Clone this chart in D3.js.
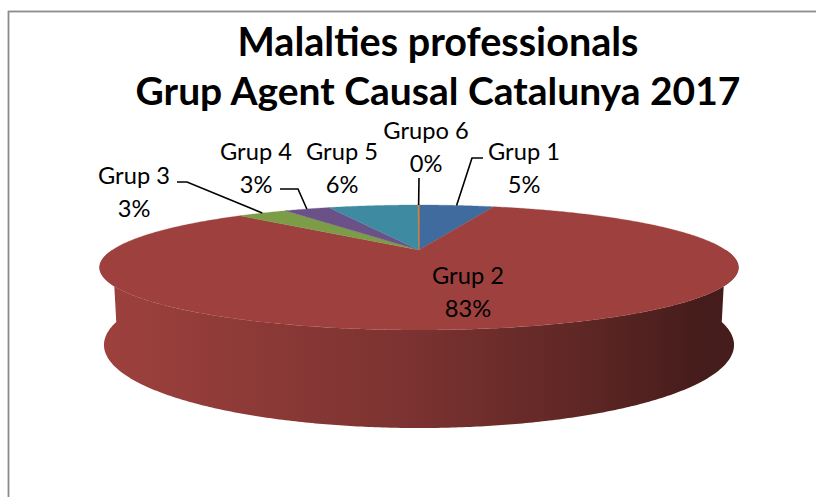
<!DOCTYPE html>
<html>
<head>
<meta charset="utf-8">
<script src="https://cdn.jsdelivr.net/npm/d3@7"></script>
<style>
  body { margin: 0; background: #fff; }
  svg { display: block; }
</style>
</head>
<body>
<div id="chart"></div>
<script>
// 3D pie chart: occupational diseases by causal agent group, Catalonia 2017

// Data
const groups = ["Grup 1", "Grup 2", "Grup 3", "Grup 4", "Grup 5", "Grupo 6"];
const shares = [5.0, 82.65, 3.3, 3.0, 6.0, 0.05];
const sliceColors = ["#3F6B9E", "#9E413E", "#7D9C47", "#6A5288", "#3E8AA1", "#D1813E"];
const titleLines = ["Malalties professionals", "Grup Agent Causal Catalunya 2017"];

// Label placement (Excel places these by hand-ish)
const labelLayout = {
  "Grup 1":  { x: 524, y: 160, elbow: [[472, 158], [483, 158]] },
  "Grup 2":  { x: 468, y: 284, elbow: null },
  "Grup 3":  { x: 134, y: 184, elbow: [[187, 182], [177, 182]] },
  "Grup 4":  { x: 256, y: 160, elbow: [[298, 189], [280, 189]] },
  "Grup 5":  { x: 342, y: 160, elbow: null },
  "Grupo 6": { x: 426, y: 139, elbow: [[419, 178]] }
};

const W = 816, H = 497;

const svg = d3.select("#chart")
  .append("svg")
  .attr("width", W)
  .attr("height", H);

// Chart frame (runs off the right and bottom edges)
svg.append("rect")
  .attr("x", 8.5).attr("y", 11.5)
  .attr("width", 830).attr("height", 520)
  .attr("fill", "#fff")
  .attr("stroke", "#8c8c8c")
  .attr("stroke-width", 1.8);

// Simple perspective camera for the disc (radius 1)
const cam = { cx: 419, cy: 250, f: 1075.8, D: 3.508, tilt: Math.asin(0.1878), h: 0.242 };
const cosT = Math.cos(cam.tilt), sinT = Math.sin(cam.tilt);

function project(X, Y, Z) {
  const u = Y * cosT + Z * sinT;
  const w = cam.D + Z * cosT - Y * sinT;
  return [cam.cx + cam.f * X / w, cam.cy - cam.f * u / w];
}
// point on the rim: angle measured clockwise from 12 o'clock (the back)
const rim = (a, level) => project(Math.sin(a), -cam.h * level, Math.cos(a));

function arcPoints(a0, a1, level) {
  const n = Math.max(2, Math.ceil(Math.abs(a1 - a0) / (Math.PI / 360)));
  return d3.range(n + 1).map(i => rim(a0 + (a1 - a0) * i / n, level));
}

const pie = d3.pie().sort(null).startAngle(0).endAngle(2 * Math.PI);
const slices = pie(shares);
const total = d3.sum(shares);
const line = d3.line();

// Gradients for the outer wall (light on the left, dark on the right)
const defs = svg.append("defs");
slices.forEach((d, i) => {
  const base = d3.color(sliceColors[i]);
  const g = defs.append("linearGradient")
    .attr("id", "side" + i)
    .attr("gradientUnits", "userSpaceOnUse")
    .attr("x1", 99).attr("x2", 738).attr("y1", 0).attr("y2", 0);
  [[0, 1], [0.5, 0.77], [0.75, 0.6], [0.95, 0.43], [1, 0.45]].forEach(([o, k]) => {
    const c = d3.rgb(base.r * k, base.g * k, base.b * k);
    g.append("stop").attr("offset", o).attr("stop-color", c.formatHex());
  });
});

// Outer wall: only the front half is visible
const sideG = svg.append("g");
slices.forEach((d, i) => {
  const a0 = Math.max(d.startAngle, Math.PI / 2);
  const a1 = Math.min(d.endAngle, 3 * Math.PI / 2);
  if (a0 >= a1) return;
  const pts = arcPoints(a0, a1, 0).concat(arcPoints(a1, a0, 1));
  sideG.append("path")
    .attr("d", line(pts) + "Z")
    .attr("fill", `url(#side${i})`);
});

// Top face
const apex = project(0, 0, 0);
const topG = svg.append("g");
slices.forEach((d, i) => {
  const pts = [apex].concat(arcPoints(d.startAngle, d.endAngle, 0));
  topG.append("path")
    .attr("d", line(pts) + "Z")
    .attr("fill", sliceColors[i])
    .attr("stroke", sliceColors[i])
    .attr("stroke-width", d.value < 0.5 ? 1.2 : 0.3);
});

// Title
const title = svg.append("g")
  .attr("font-family", "Lato, 'Open Sans', sans-serif")
  .attr("font-weight", "bold")
  .attr("fill", "#000")
  .attr("text-anchor", "middle");
const titleFit = [{ y: 56, w: 401 }, { y: 105, w: 605 }];
titleLines.forEach((t, i) => {
  const el = title.append("text")
    .attr("x", 438).attr("y", titleFit[i].y)
    .style("font-size", "36px")
    .text(t);
  const w = el.node().getComputedTextLength();
  el.style("font-size", (36 * titleFit[i].w / w) + "px");
});

// Data labels
const labelG = svg.append("g")
  .attr("font-family", "Lato, 'Open Sans', sans-serif")
  .attr("fill", "#000")
  .attr("text-anchor", "middle");
const probe = labelG.append("text").style("font-size", "24px").text("Grup 1");
const labelSize = 24 * 72 / probe.node().getComputedTextLength();
probe.remove();

slices.forEach((d, i) => {
  const name = groups[i];
  const L = labelLayout[name];
  if (L.elbow) {
    const mid = (d.startAngle + d.endAngle) / 2;
    labelG.append("path")
      .attr("d", line([rim(mid, 0)].concat(L.elbow)))
      .attr("fill", "none")
      .attr("stroke", "#000")
      .attr("stroke-width", 1.6);
  }
  const pct = Math.round(100 * d.value / total) + "%";
  labelG.append("text")
    .attr("x", L.x).attr("y", L.y)
    .style("font-size", labelSize + "px")
    .text(name);
  labelG.append("text")
    .attr("x", L.x).attr("y", L.y + 33)
    .style("font-size", labelSize + "px")
    .text(pct);
});
</script>
</body>
</html>
